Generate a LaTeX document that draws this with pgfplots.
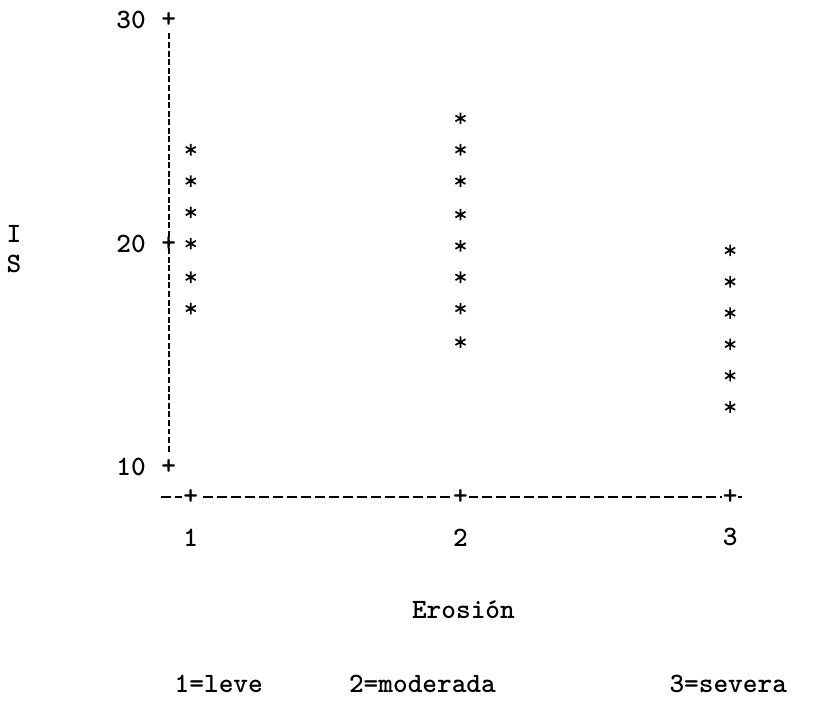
\documentclass[border=0pt]{standalone}
\usepackage{fontspec}
\usepackage{pgfplots}
\pgfplotsset{compat=1.18}
\newfontfamily\lpfont{lmmonolt10-bold.otf}
\tikzset{lp/.style={font=\lpfont\fontsize{14}{16}\selectfont}}
\begin{document}
\begin{tikzpicture}[every node/.append style={lp}]
\begin{axis}[
  x=135pt, y=11.2pt,
  xmin=0.2963, xmax=3.337, ymin=-0.848, ymax=30.893,
  hide axis, clip=false,
]
% data: erosion level vs IS
\addplot[only marks, mark=asterisk, mark size=2.9pt, line width=0.85pt, black] table {
x y
1 24.2
1 22.8
1 21.4
1 20.0
1 18.5
1 17.1
2 25.6
2 24.2
2 22.8
2 21.3
2 19.9
2 18.5
2 17.1
2 15.6
3 19.7
3 18.3
3 16.9
3 15.5
3 14.1
3 12.7
};
% bounding box
\path (axis cs:0.2963,-0.848) rectangle (axis cs:3.337,30.893);
% y axis
\draw[line width=0.9pt, dash pattern=on 3pt off 1.3pt] (axis cs:0.9185,29.4) -- (axis cs:0.9185,10.6);
\pgfplotsinvokeforeach{10,20,30}{
  \node[lp] at (axis cs:0.9185,#1) {+};
  \node[lp, anchor=east] at (axis cs:0.8593,#1) {#1};
}
% x axis
\draw[line width=0.9pt, dash pattern=on 5pt off 2pt] (axis cs:0.8889,8.661) -- (axis cs:3.0444,8.661);
\pgfplotsinvokeforeach{1,2,3}{
  \node[lp, fill=white, inner sep=0.5pt] at (axis cs:#1,8.661) {+};
  \node[lp] at (axis cs:#1,6.875) {#1};
}
% labels
\node[lp] at (axis cs:2.011,3.661) {Erosión};
\node[lp] at (axis cs:0.3444,20.45) {I};
\node[lp] at (axis cs:0.3444,19.10) {S};
\node[lp] at (axis cs:1.1037,0.3125) {1=leve};
\node[lp] at (axis cs:1.859,0.3125) {2=moderada};
\node[lp] at (axis cs:2.993,0.3125) {3=severa};
\end{axis}
\end{tikzpicture}
\end{document}
